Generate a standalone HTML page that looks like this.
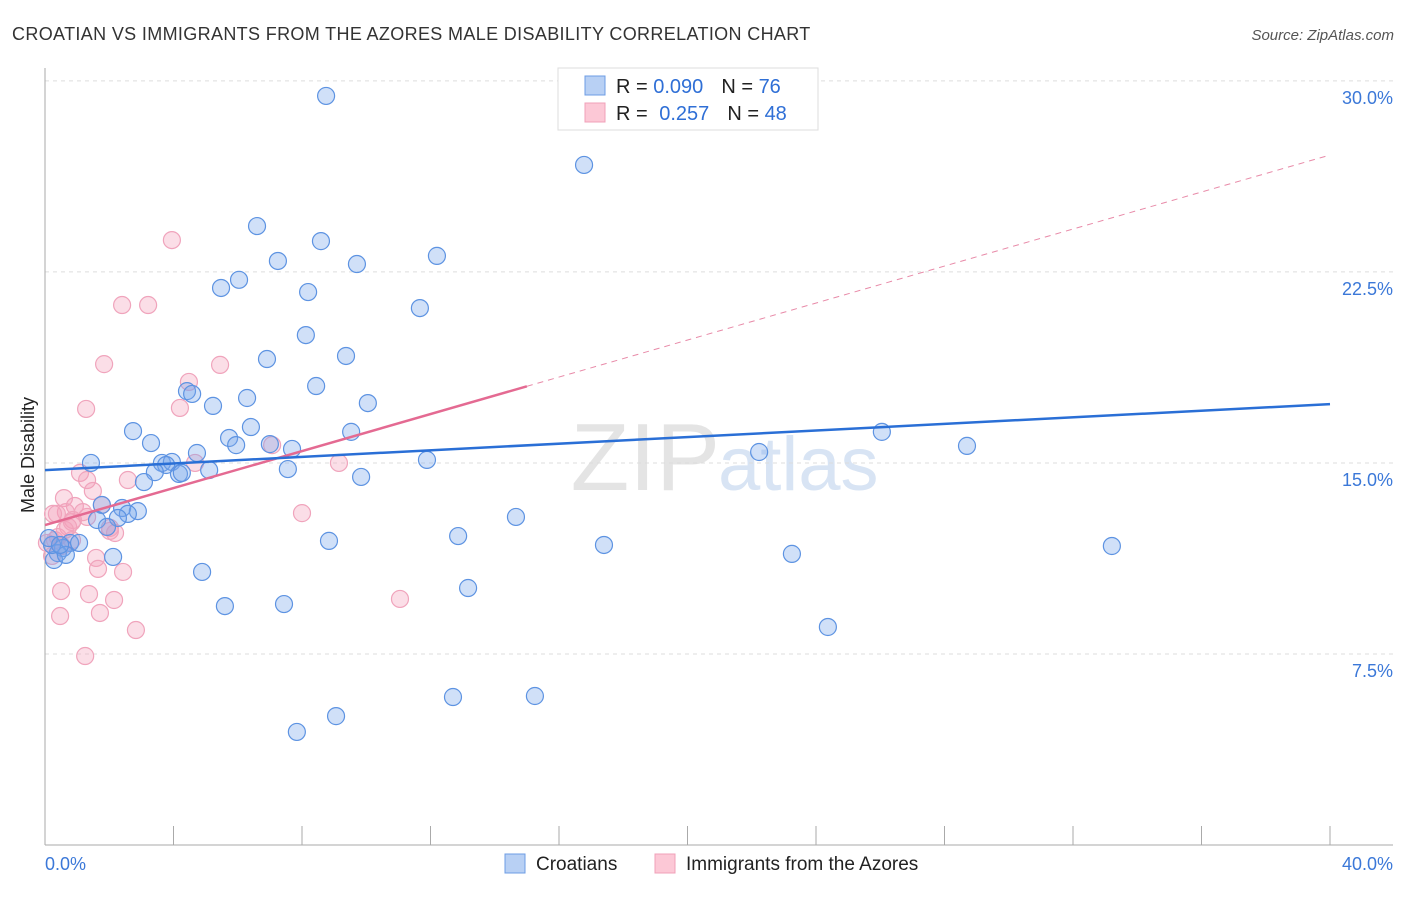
<!DOCTYPE html>
<html><head><meta charset="utf-8"><style>
body{margin:0;background:#fff;font-family:"Liberation Sans",sans-serif;}
svg text{font-family:"Liberation Sans",sans-serif;}
</style></head><body>
<svg id="c" width="1406" height="892" xmlns="http://www.w3.org/2000/svg">
<text x="12" y="40" font-size="18" letter-spacing="0.35" fill="#333">CROATIAN VS IMMIGRANTS FROM THE AZORES MALE DISABILITY CORRELATION CHART</text>
<text x="1394" y="40" font-size="15" fill="#555" font-style="italic" text-anchor="end">Source: ZipAtlas.com</text>
<text x="720" y="490" font-size="96" fill="#e4e4e4" text-anchor="end" font-family="Liberation Serif">ZIP</text>
<text x="718" y="490" font-size="76" fill="#d8e4f4">atlas</text>
<text transform="translate(34,455) rotate(-90)" font-size="18" fill="#222" text-anchor="middle">Male Disability</text>
<g id="grid"></g><g id="pts"></g><g id="lines"></g>
<g>
<rect x="558" y="68" width="260" height="62" fill="#fff" stroke="#ddd"/>
<rect x="585" y="76" width="20" height="19" fill="#b8d0f4" stroke="#6d9ce4"/>
<rect x="585" y="103" width="20" height="19" fill="#fcc8d6" stroke="#f0a0b8"/>
<text x="616" y="93" font-size="20" fill="#222">R = <tspan fill="#2f6fd6">0.090</tspan><tspan dx="18">N = </tspan><tspan fill="#2f6fd6">76</tspan></text>
<text x="616" y="120" font-size="20" fill="#222">R = <tspan fill="#2f6fd6" dx="6">0.257</tspan><tspan dx="18">N = </tspan><tspan fill="#2f6fd6">48</tspan></text>
</g>
<g>
<rect x="505" y="854" width="20" height="19" fill="#b8d0f4" stroke="#6d9ce4"/>
<text x="536" y="870" font-size="19" fill="#222">Croatians</text>
<rect x="655" y="854" width="20" height="19" fill="#fcc8d6" stroke="#f0a0b8"/>
<text x="686" y="870" font-size="19" fill="#222">Immigrants from the Azores</text>
</g>
</svg>
<script>
const yTicks=[7.5,15,22.5,30];
const xTickLabels=["0.0%","40.0%"];
const blueX=[8.75,16.78,6.60,8.59,12.20,7.25,9.71,6.04,5.48,8.19,11.67,8.12,9.37,6.91,8.44,4.42,4.58,6.29,5.23,10.05,6.41,2.74,5.73,5.95,9.53,3.30,7.00,7.69,4.73,26.05,28.70,22.23,1.43,3.64,3.95,3.77,5.11,3.42,4.17,4.26,7.56,11.89,9.84,3.08,1.77,2.40,2.89,2.58,1.62,2.27,1.93,14.66,2.12,0.78,1.06,0.56,0.40,0.28,0.22,0.65,8.84,12.86,17.40,23.25,33.21,4.89,13.17,5.60,7.44,24.37,12.70,15.25,9.06,7.84,0.12,0.47];
const blueY=[29.41,26.70,24.30,23.71,23.13,22.93,22.81,22.19,21.87,21.71,21.08,20.02,19.20,19.08,18.02,17.82,17.71,17.55,17.24,17.35,16.41,16.25,15.98,15.70,16.22,15.78,15.74,15.55,15.39,16.22,15.67,15.43,15.00,15.00,15.04,14.92,14.72,14.64,14.57,14.61,14.76,15.12,14.45,14.25,13.35,13.23,13.11,13.00,12.76,12.84,12.49,12.88,11.31,11.86,11.86,11.66,11.46,11.19,11.78,11.39,11.94,12.13,11.78,11.43,11.74,10.72,10.09,9.38,9.46,8.56,5.81,5.85,5.06,4.44,12.05,11.78];
const pinkX=[3.95,2.40,3.21,1.84,5.45,4.48,1.28,4.20,7.07,4.67,9.15,1.09,1.31,1.49,2.58,0.59,0.93,0.65,0.25,0.37,1.77,1.31,8.00,0.87,0.72,2.02,2.18,0.40,0.06,0.53,0.22,1.59,1.65,2.43,0.50,1.37,2.15,1.71,0.47,2.83,1.25,11.05,0.84,0.31,1.18,0.62,2.02,0.84];
const pinkY=[23.75,21.20,21.20,18.88,18.85,18.18,17.12,17.16,15.70,15.00,15.00,14.61,14.33,13.90,14.33,13.62,13.31,13.07,13.00,13.00,13.35,12.88,13.03,12.76,12.49,12.33,12.25,12.09,11.86,11.74,11.35,11.27,10.84,10.72,9.97,9.85,9.62,9.11,8.99,8.44,7.42,9.66,11.97,11.97,13.07,12.37,12.45,12.68];
const blueTrend=[14.72,17.31];
const pinkTrend=[12.56,27.09];
const pinkSolidEnd=15.0;
const NS="http://www.w3.org/2000/svg";
const X=v=>45+v*32.125, Y=v=>845-v*25.47;
function mk(t,a,p){const e=document.createElementNS(NS,t);for(const k in a)e.setAttribute(k,a[k]);p.appendChild(e);return e;}
const g=document.getElementById('grid');
yTicks.forEach(t=>{
 const l=mk('line',{x1:45,x2:1393,y1:Y(t),y2:Y(t),stroke:'#ddd','stroke-dasharray':'4,4'},g);
 
 
 const tx=mk('text',{x:1393,y:Y(t)+23,'font-size':18,fill:'#3b78d8','text-anchor':'end'},g);
 tx.textContent=t.toFixed(1)+'%';
 
 
});
let a=mk('line',{x1:45,x2:45,y1:68,y2:845,stroke:'#aaa'},g);


a=mk('line',{x1:45,x2:1393,y1:845,y2:845,stroke:'#aaa'},g);


for(let i=0;i<=10;i++){const tk=mk('line',{x1:X(i*4),x2:X(i*4),y1:826,y2:845,stroke:'#aaa'},g);
 
 }
[[0,'start',45],[1,'end',1393]].forEach(([i,an,x])=>{const t=mk('text',{x:x,y:870,'font-size':18,fill:'#3b78d8','text-anchor':an},g);t.textContent=xTickLabels[i];
 
 });
const p=document.getElementById('pts');
pinkX.forEach((v,i)=>{const c=mk('circle',{cx:X(v),cy:Y(pinkY[i]),r:8.5,fill:'rgba(244,160,186,0.35)',stroke:'#f0a4bc','stroke-width':1.2},p);
 
 });
blueX.forEach((v,i)=>{const c=mk('circle',{cx:X(v),cy:Y(blueY[i]),r:8.5,fill:'rgba(120,165,235,0.35)',stroke:'#5d93e2','stroke-width':1.2},p);
 
 });
const L=document.getElementById('lines');
const pv=x=>pinkTrend[0]+(pinkTrend[1]-pinkTrend[0])*x/40;
let ln=mk('line',{x1:X(pinkSolidEnd),y1:Y(pv(pinkSolidEnd)),x2:X(40),y2:Y(pinkTrend[1]),stroke:'#e88aa8','stroke-width':1,'stroke-dasharray':'6,5'},L);


ln=mk('line',{x1:X(0),y1:Y(pinkTrend[0]),x2:X(pinkSolidEnd),y2:Y(pv(pinkSolidEnd)),stroke:'#e46a92','stroke-width':2.5},L);


ln=mk('line',{x1:X(0),y1:Y(blueTrend[0]),x2:X(40),y2:Y(blueTrend[1]),stroke:'#2a6fd6','stroke-width':2.5},L);


</script>
</body></html>
